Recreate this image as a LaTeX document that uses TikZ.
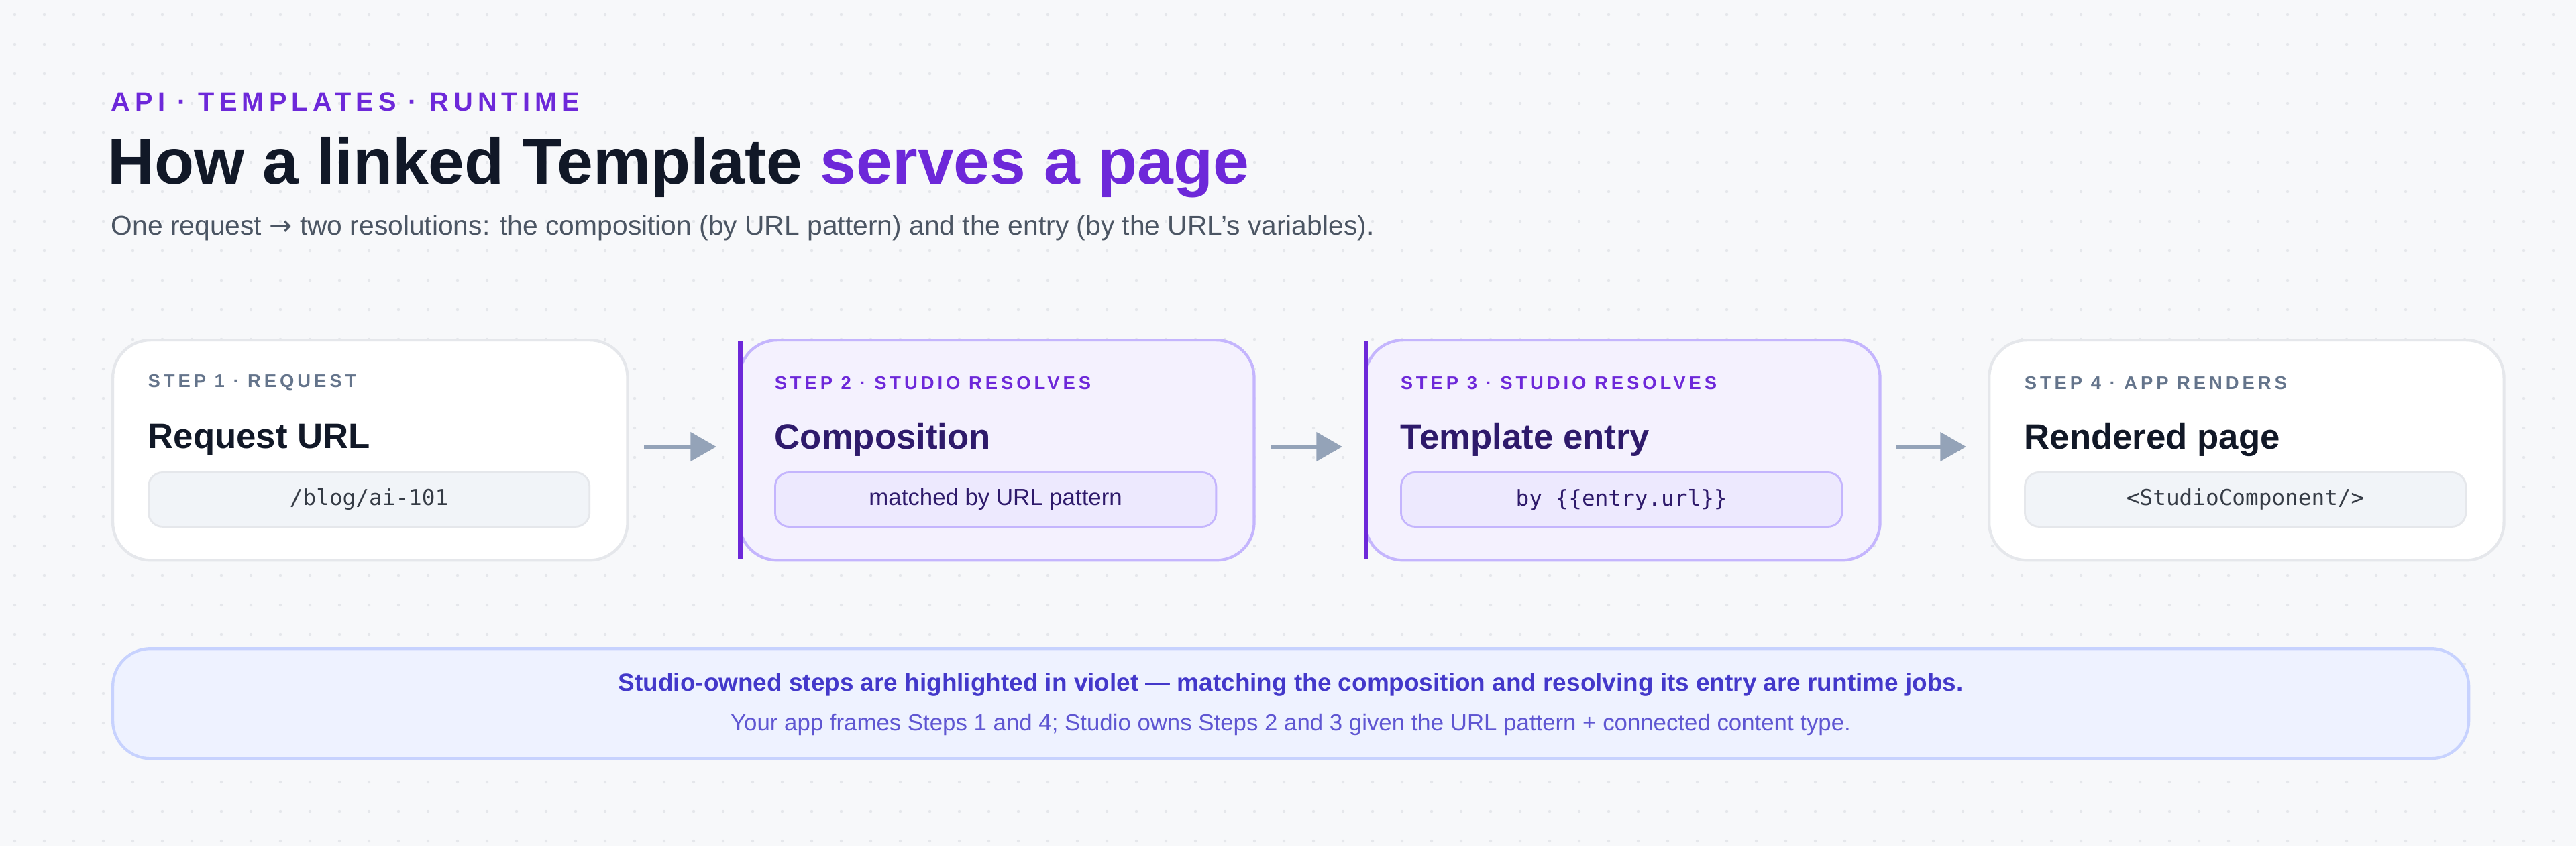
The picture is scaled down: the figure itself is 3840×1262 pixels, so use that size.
\documentclass[tikz,border=0pt]{standalone}
\usepackage{fontspec}
\setmainfont{Liberation Sans}
\setmonofont{DejaVu Sans Mono}
\newfontfamily\kickfont[LetterSpace=18]{Liberation Sans}
\newfontfamily\symfont{DejaVu Sans}
\usetikzlibrary{positioning,arrows.meta}
\definecolor{bgpage}{HTML}{F7F8FA}
\definecolor{violet}{HTML}{6D28D9}
\definecolor{ink}{HTML}{111827}
\definecolor{slate}{HTML}{4B5563}
\definecolor{steplab}{HTML}{64748B}
\definecolor{cardline}{HTML}{E5E7EB}
\definecolor{vfill}{HTML}{F4F1FE}
\definecolor{vline}{HTML}{C4B5FD}
\definecolor{vinner}{HTML}{EDE9FE}
\definecolor{ginner}{HTML}{F1F4F8}
\definecolor{arrowgray}{HTML}{94A3B8}
\definecolor{notefill}{HTML}{EEF2FF}
\definecolor{noteline}{HTML}{C7D2FE}
\definecolor{notetext}{HTML}{4338CA}
\definecolor{vtitle}{HTML}{2E1A6B}
\tikzset{
  card/.style={draw=cardline, fill=white, line width=1.2pt, rounded corners=16pt,
    minimum width=7.67cm, minimum height=3.28cm, inner sep=0pt},
  vcard/.style={card, draw=vline, fill=vfill},
  inner/.style={draw=cardline, fill=ginner, line width=0.8pt, rounded corners=6pt,
    minimum width=6.57cm, minimum height=0.81cm, inner sep=0pt, font=\ttfamily\fontsize{9.3}{11}\selectfont, text=slate!70!black},
  vinner/.style={inner, draw=vline, fill=vinner, font=\fontsize{9.9}{11}\selectfont, text=vtitle},
  steplabel/.style={anchor=west, inner sep=0pt, font=\kickfont\bfseries\fontsize{7.8}{9}\selectfont, text=steplab},
  cardtitle/.style={anchor=west, inner sep=0pt, font=\bfseries\fontsize{15}{17}\selectfont, text=ink},
  flow/.style={draw=arrowgray, line width=2pt, -{Triangle[length=11pt,width=12pt]}, shorten <=0.22cm, shorten >=0.32cm}
}
\begin{document}
\begin{tikzpicture}[x=0.01cm,y=-0.01cm]
  \fill[bgpage] (0,0) rectangle (3840,1262);
  \useasboundingbox (0,0) rectangle (3840,1262);

  % faint dot grid
  \foreach \i in {0,...,87} {
    \foreach \j in {0,...,28} {
      \fill[cardline] (\i*44+22,\j*44+22) circle (2.2);
    }
  }

  % heading
  \node[anchor=west, inner sep=0pt, text=violet, font=\kickfont\bfseries\fontsize{11.3}{13}\selectfont] (kicker) at (165,152) {API · TEMPLATES · RUNTIME};
  \node[anchor=west, inner sep=0pt, font=\bfseries\fontsize{27.5}{32}\selectfont] (title) at (160,250) {\textcolor{ink}{How a linked Template} \textcolor{violet}{serves a page}};
  \node[anchor=west, inner sep=0pt, text=slate, font=\fontsize{11.6}{14}\selectfont] (subtitle) at (165,340) {One request {\symfont →} two resolutions: the composition (by URL pattern) and the entry (by the URL's variables).};

  % step cards
  \node[card,  anchor=north west] (req)  at (166,505)  {};
  \node[vcard, anchor=north west] (comp) at (1100,505) {};
  \node[vcard, anchor=north west] (tmpl) at (2033,505) {};
  \node[card,  anchor=north west] (rend) at (2963,505) {};

  \draw[violet, line width=2pt] ([xshift=1pt,yshift=-1pt]comp.north west) -- ([xshift=1pt,yshift=1pt]comp.south west);
  \draw[violet, line width=2pt] ([xshift=1pt,yshift=-1pt]tmpl.north west) -- ([xshift=1pt,yshift=1pt]tmpl.south west);

  \node[steplabel] (reqlab)  at ([xshift=0.54cm]req.north west  |- 0,571) {STEP 1 · REQUEST};
  \node[steplabel, text=violet] (complab) at ([xshift=0.54cm]comp.north west |- 0,571) {STEP 2 · STUDIO RESOLVES};
  \node[steplabel, text=violet] (tmpllab) at ([xshift=0.54cm]tmpl.north west |- 0,571) {STEP 3 · STUDIO RESOLVES};
  \node[steplabel] (rendlab) at ([xshift=0.54cm]rend.north west |- 0,571) {STEP 4 · APP RENDERS};

  \node[cardtitle] (reqtitle)  at (reqlab.west  |- 0,656) {Request URL};
  \node[cardtitle, text=vtitle] (comptitle) at (complab.west |- 0,656) {Composition};
  \node[cardtitle, text=vtitle] (tmpltitle) at (tmpllab.west |- 0,656) {Template entry};
  \node[cardtitle] (rendtitle) at (rendlab.west |- 0,656) {Rendered page};

  \node[inner,  anchor=north west] (reqbox)  at (reqtitle.west  |- 0,703) {/blog/ai-101};
  \node[vinner, anchor=north west] (compbox) at (comptitle.west |- 0,703) {matched by URL pattern};
  \node[vinner, anchor=north west, font=\ttfamily\fontsize{9.3}{11}\selectfont] (tmplbox) at (tmpltitle.west |- 0,703) {by \{\{entry.url\}\}};
  \node[inner,  anchor=north west] (rendbox) at (rendtitle.west |- 0,703) {<StudioComponent/>};

  \draw[flow] (req.east |- 0,666)  -- (comp.west |- 0,666);
  \draw[flow] (comp.east |- 0,666) -- (tmpl.west |- 0,666);
  \draw[flow] (tmpl.east |- 0,666) -- (rend.west |- 0,666);

  % note
  \node[draw=noteline, fill=notefill, line width=1.2pt, rounded corners=16pt, anchor=north west,
    minimum width=35.1cm, minimum height=1.64cm, inner sep=0pt] (note) at (166,965) {};
  \node[text=notetext, inner sep=0pt, font=\bfseries\fontsize{10.5}{12}\selectfont] (notemain) at (note.center |- 0,1021) {Studio-owned steps are highlighted in violet — matching the composition and resolving its entry are runtime jobs.};
  \node[text=notetext!85!white, inner sep=0pt, font=\fontsize{9.9}{11}\selectfont] (notesub) at (note.center |- 0,1080) {Your app frames Steps 1 and 4; Studio owns Steps 2 and 3 given the URL pattern + connected content type.};
\end{tikzpicture}
\end{document}
